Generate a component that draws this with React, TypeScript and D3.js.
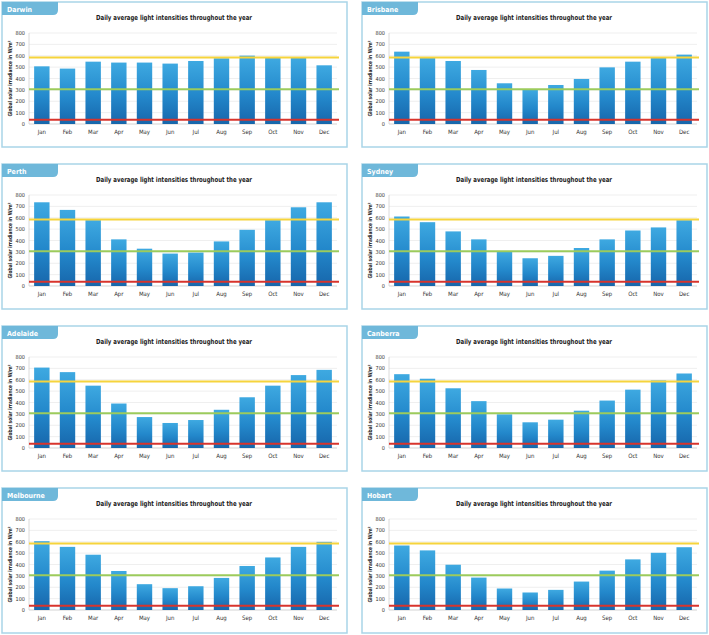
import React, { useEffect, useRef } from "react"
import * as d3 from "d3"

const months = ["Jan", "Feb", "Mar", "Apr", "May", "Jun", "Jul", "Aug", "Sep", "Oct", "Nov", "Dec"]
const yTicks = [0, 100, 200, 300, 400, 500, 600, 700, 800]
const cities = ["Darwin", "Brisbane", "Perth", "Sydney", "Adelaide", "Canberra", "Melbourne", "Hobart"]

const darwin = [507, 487, 548, 540, 540, 531, 554, 578, 601, 581, 581, 516]
const brisbane = [636, 580, 554, 475, 358, 302, 343, 396, 498, 548, 580, 610]
const perth = [736, 669, 579, 410, 328, 285, 294, 392, 494, 579, 692, 736]
const sydney = [611, 561, 480, 410, 302, 244, 265, 334, 410, 488, 515, 579]
const adelaide = [707, 667, 548, 391, 272, 220, 246, 336, 446, 548, 641, 687]
const canberra = [649, 609, 525, 412, 296, 226, 249, 328, 417, 513, 594, 655]
const melbourne = [605, 555, 486, 343, 227, 192, 209, 282, 387, 462, 555, 599]
const hobart = [567, 524, 398, 285, 189, 154, 177, 250, 346, 445, 503, 552]

// reference lines: yellow, green, red
const thresholds = [585, 305, 38]
const thresholdColors = ["#f6d43c", "#9ccb5c", "#d8342c"]

const title = "Daily average light intensities throughout the year"
const yTitle = "Global solar irradiance in W/m²"

const seriesList = [darwin, brisbane, perth, sydney, adelaide, canberra, melbourne, hobart]

export default function App() {
    const ref = useRef<SVGSVGElement>(null)

    useEffect(() => {
        document.body.style.margin = "0"
        const svg = d3.select(ref.current)
        svg.selectAll("*").remove()

        const defs = svg.append("defs")
        const grad = defs.append("linearGradient")
            .attr("id", "barGrad")
            .attr("x1", 0).attr("y1", 0).attr("x2", 0).attr("y2", 1)
        grad.append("stop").attr("offset", "0%").attr("stop-color", "#3ea9e1")
        grad.append("stop").attr("offset", "55%").attr("stop-color", "#2388cb")
        grad.append("stop").attr("offset", "100%").attr("stop-color", "#1766ab")

        const font = "'DejaVu Sans Condensed', 'Liberation Sans Narrow', sans-serif"
        const panelW = 345
        const panelH = 145
        const colX = [2, 362]
        const rowY = [2, 164, 326, 488]

        var x = d3.scaleBand()
            .domain(months)
            .range([27, 335])
            .paddingInner(0.4)
            .paddingOuter(0.2)
        var y = d3.scaleLinear()
            .domain([0, 800])
            .range([122, 31])

        cities.forEach((city, i) => {
            const values = seriesList[i]
            const g = svg.append("g")
                .attr("transform", "translate(" + colX[i % 2] + "," + rowY[Math.floor(i / 2)] + ")")

            g.append("rect")
                .attr("x", 0).attr("y", 0)
                .attr("width", panelW).attr("height", panelH)
                .attr("fill", "#fff")
                .attr("stroke", "#a9d5e8")
                .attr("stroke-width", 1.5)

            // tab
            g.append("path")
                .attr("d", "M0,0 H56 V8 Q56,13 51,13 H0 Z")
                .attr("fill", "#6fb8da")
            g.append("text")
                .attr("x", 5).attr("y", 10)
                .attr("fill", "#fff")
                .attr("font-family", font)
                .attr("font-weight", "bold")
                .attr("font-size", 7)
                .text(city)

            g.append("text")
                .attr("x", 172).attr("y", 17.5)
                .attr("text-anchor", "middle")
                .attr("font-family", font)
                .attr("font-weight", "bold")
                .attr("font-size", 7)
                .attr("textLength", 156)
                .attr("lengthAdjust", "spacingAndGlyphs")
                .attr("fill", "#222")
                .text(title)

            // grid
            g.append("g")
                .selectAll("line")
                .data(yTicks)
                .enter()
                .append("line")
                .attr("x1", 27).attr("x2", 335)
                .attr("y1", d => y(d)).attr("y2", d => y(d))
                .attr("stroke", d => d === 0 ? "#c8c8c8" : "#ebebeb")
                .attr("stroke-width", 0.8)
            g.append("line")
                .attr("x1", 27).attr("x2", 27)
                .attr("y1", y(800)).attr("y2", y(0))
                .attr("stroke", "#d0d0d0")
                .attr("stroke-width", 0.8)

            g.append("g")
                .selectAll("text")
                .data(yTicks)
                .enter()
                .append("text")
                .attr("x", 23)
                .attr("y", d => y(d) + 2)
                .attr("text-anchor", "end")
                .attr("font-family", font)
                .attr("font-size", 5.5)
                .attr("fill", "#333")
                .text(d => d)

            g.append("text")
                .attr("transform", "translate(9.5," + ((y(0) + y(800)) / 2) + ") rotate(-90)")
                .attr("text-anchor", "middle")
                .attr("font-family", font)
                .attr("font-weight", "bold")
                .attr("font-size", 5.5)
                .attr("textLength", 76)
                .attr("lengthAdjust", "spacingAndGlyphs")
                .attr("fill", "#222")
                .text(yTitle)

            g.append("g")
                .selectAll("rect")
                .data(values)
                .enter()
                .append("rect")
                .attr("x", (d, j) => x(months[j]) as number)
                .attr("width", x.bandwidth())
                .attr("y", d => y(d))
                .attr("height", d => y(0) - y(d))
                .attr("fill", "url(#barGrad)")

            g.append("g")
                .selectAll("text")
                .data(months)
                .enter()
                .append("text")
                .attr("x", d => (x(d) as number) + x.bandwidth() / 2)
                .attr("y", 132)
                .attr("text-anchor", "middle")
                .attr("font-family", font)
                .attr("font-size", 6)
                .attr("fill", "#333")
                .text(d => d)

            g.append("g")
                .selectAll("line")
                .data(thresholds)
                .enter()
                .append("line")
                .attr("x1", 27).attr("x2", 337)
                .attr("y1", d => y(d)).attr("y2", d => y(d))
                .attr("stroke", (d, j) => thresholdColors[j])
                .attr("stroke-width", 2)
        })
    }, [])

    return <svg ref={ref} width={709} height={635} style={{ display: "block" }} />
}
